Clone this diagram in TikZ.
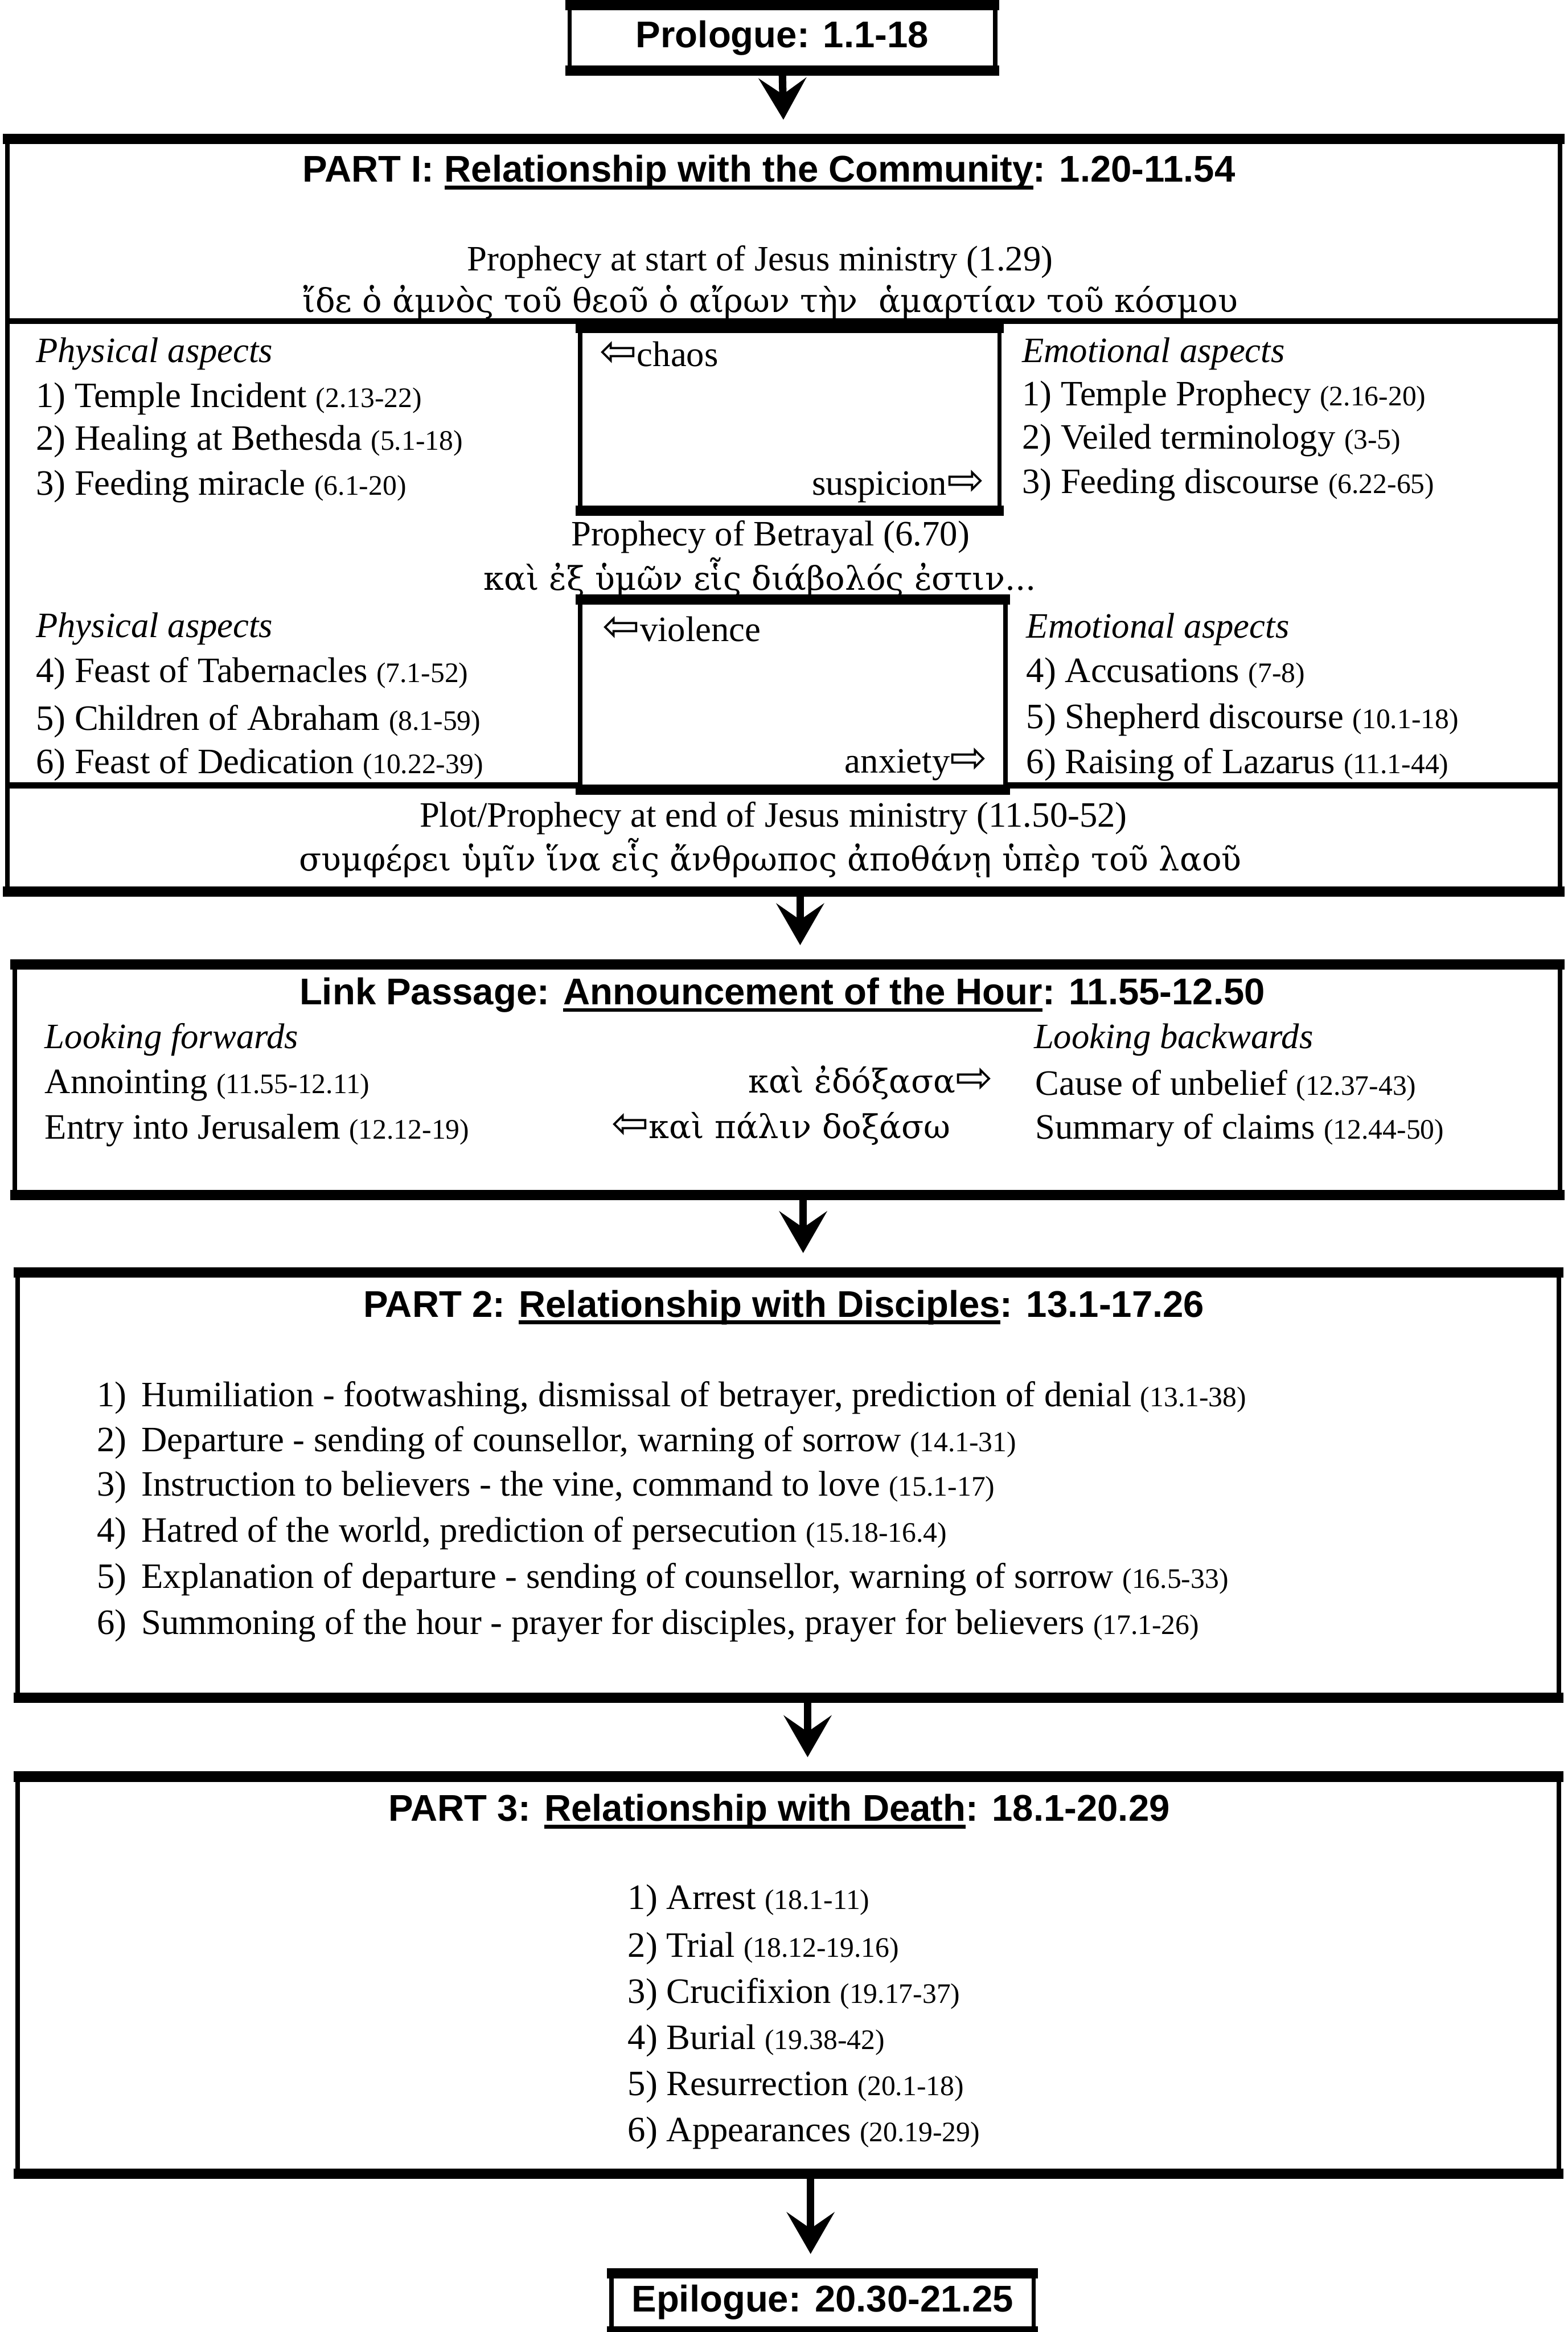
\documentclass[tikz,border=0pt]{standalone}
\usepackage{fontspec}
\usepackage{tikz}
\usetikzlibrary{arrows.meta}
\setmainfont{Liberation Serif}
\setsansfont{Liberation Sans}
\newfontfamily\greekfont{DejaVu Serif}
\newfontfamily\arrowfont{DejaVu Sans}
\newcommand{\passref}[1]{{\fontsize{19}{22}\selectfont #1}}
\newcommand{\leftwhite}{{\arrowfont\fontsize{30}{30}\selectfont ⇦}}
\newcommand{\rightwhite}{{\arrowfont\fontsize{30}{30}\selectfont ⇨}}
\newcommand{\titleul}[1]{\setbox0=\hbox{#1}\rlap{\rule[-5pt]{\wd0}{2.6pt}}\box0}

\begin{document}
\begin{tikzpicture}[x=1pt,y=-1pt,
  boxedge/.style={line width=7pt,shorten <=-1.5pt,shorten >=-1.5pt},
  bigbox/.style={draw,line width=3pt,fill=white,inner sep=0pt,
    append after command={(\tikzlastnode.north west) edge[boxedge] (\tikzlastnode.north east)
      (\tikzlastnode.south west) edge[boxedge] (\tikzlastnode.south east)}},
  headtext/.style={font=\sffamily\bfseries\fontsize{25}{29}\selectfont,inner sep=0pt},
  body/.style={font=\fontsize{24}{29}\selectfont,inner sep=0pt},
  lbody/.style={body,anchor=west},
  rbody/.style={body,anchor=east},
  greek/.style={font=\greekfont\fontsize{22}{26}\selectfont,inner sep=0pt},
  divider/.style={line width=4pt},
  flow/.style={line width=5pt,-{Stealth[length=28pt,width=32pt,inset=11pt]},shorten >=13pt}]
  \useasboundingbox[fill=white] (0,0) rectangle (1054,1568);

  \node [bigbox,headtext,minimum width=286pt,minimum height=41pt] (prologue) at (526,25.5) {Prologue: 1.1-18};

  \node [bigbox,minimum width=1044pt,minimum height=503pt] (part1) at (527,346.5) {};
  \node [headtext] (part1title) at (517,116) {PART I: \titleul{Relationship with the Community}: 1.20-11.54};
  \node [body] (startprophecy) at (511,176) {Prophecy at start of Jesus ministry (1.29)};
  \node [greek] (startgreek) at (518,203) {ἴδε ὁ ἀμνὸς τοῦ θεοῦ ὁ αἴρων τὴν\ \ ἁμαρτίαν τοῦ κόσμου};
  \coordinate (topdiv) at (0,216);
  \coordinate (lowdiv) at (0,528);
  \draw [divider] (part1.west |- topdiv) -- (part1.east |- topdiv);
  \draw [divider] (part1.west |- lowdiv) -- (part1.east |- lowdiv);

  \node [bigbox,minimum width=282pt,minimum height=120pt] (chaosbox) at (531,282) {};
  \node [lbody] (chaos) at (403,238) {\leftwhite chaos};
  \node [rbody] (suspicion) at (662,327) {suspicion\rightwhite};
  \node [lbody] (physical1) at (24,238) {\textit{Physical aspects}};
  \node [lbody] (temple) at (24,268) {1) Temple Incident \passref{(2.13-22)}};
  \node [lbody] (bethesda) at (24,297) {2) Healing at Bethesda \passref{(5.1-18)}};
  \node [lbody] (miracle) at (24,327) {3) Feeding miracle \passref{(6.1-20)}};
  \node [lbody] (emotional1) at (687,238) {\textit{Emotional aspects}};
  \node [lbody] (templeprophecy) at (687,267) {1) Temple Prophecy \passref{(2.16-20)}};
  \node [lbody] (veiled) at (687,296) {2) Veiled terminology \passref{(3-5)}};
  \node [lbody] (discourse) at (687,326) {3) Feeding discourse \passref{(6.22-65)}};

  \node [body] (betrayal) at (518,361) {Prophecy of Betrayal (6.70)};
  \node [greek] (betrayalgreek) at (511,388) {καὶ ἐξ ὑμῶν εἷς διάβολός ἐστιν...};

  \node [bigbox,minimum width=286pt,minimum height=125pt] (violencebox) at (533,467) {};
  \node [lbody] (violence) at (405,423) {\leftwhite violence};
  \node [rbody] (anxiety) at (664,514) {anxiety\rightwhite};
  \node [lbody] (physical2) at (24,423) {\textit{Physical aspects}};
  \node [lbody] (tabernacles) at (24,453) {4) Feast of Tabernacles \passref{(7.1-52)}};
  \node [lbody] (abraham) at (24,485) {5) Children of Abraham \passref{(8.1-59)}};
  \node [lbody] (dedication) at (24,514) {6) Feast of Dedication \passref{(10.22-39)}};
  \node [lbody] (emotional2) at (690,423) {\textit{Emotional aspects}};
  \node [lbody] (accusations) at (690,453) {4) Accusations \passref{(7-8)}};
  \node [lbody] (shepherd) at (690,484) {5) Shepherd discourse \passref{(10.1-18)}};
  \node [lbody] (lazarus) at (690,514) {6) Raising of Lazarus \passref{(11.1-44)}};

  \node [body] (endprophecy) at (520,550) {Plot/Prophecy at end of Jesus ministry (11.50-52)};
  \node [greek] (endgreek) at (518,577) {συμφέρει ὑμῖν ἵνα εἷς ἄνθρωπος ἀποθάνῃ ὑπὲρ τοῦ λαοῦ};

  \node [bigbox,minimum width=1039pt,minimum height=152pt] (link) at (529.5,726) {};
  \node [headtext] (linktitle) at (526,669) {Link Passage: \titleul{Announcement of the Hour}: 11.55-12.50};
  \node [lbody] (forwards) at (30,699) {\textit{Looking forwards}};
  \node [lbody] (annointing) at (30,730) {Annointing \passref{(11.55-12.11)}};
  \node [lbody] (entry) at (30,760) {Entry into Jerusalem \passref{(12.12-19)}};
  \node [rbody] (glorified) at (668,728) {{\greekfont\fontsize{22}{26}\selectfont καὶ ἐδόξασα}\rightwhite};
  \node [lbody] (glorifyagain) at (411,759) {\leftwhite{\greekfont\fontsize{22}{26}\selectfont καὶ πάλιν δοξάσω}};
  \node [lbody] (backwards) at (695,699) {\textit{Looking backwards}};
  \node [lbody] (unbelief) at (696,730) {Cause of unbelief \passref{(12.37-43)}};
  \node [lbody] (claims) at (696,760) {Summary of claims \passref{(12.44-50)}};

  \node [bigbox,minimum width=1036pt,minimum height=283pt] (part2) at (530,998.5) {};
  \node [headtext] (part2title) at (527,879) {PART 2: \titleul{Relationship with Disciples}: 13.1-17.26};
  \node [lbody] (humiliation) at (65,940) {1)\hspace{10pt}Humiliation - footwashing, dismissal of betrayer, prediction of denial \passref{(13.1-38)}};
  \node [lbody] (departure) at (65,970) {2)\hspace{10pt}Departure - sending of counsellor, warning of sorrow \passref{(14.1-31)}};
  \node [lbody] (instruction) at (65,1000) {3)\hspace{10pt}Instruction to believers - the vine, command to love \passref{(15.1-17)}};
  \node [lbody] (hatred) at (65,1031) {4)\hspace{10pt}Hatred of the world, prediction of persecution \passref{(15.18-16.4)}};
  \node [lbody] (explanation) at (65,1062) {5)\hspace{10pt}Explanation of departure - sending of counsellor, warning of sorrow \passref{(16.5-33)}};
  \node [lbody] (summoning) at (65,1093) {6)\hspace{10pt}Summoning of the hour - prayer for disciples, prayer for believers \passref{(17.1-26)}};

  \node [bigbox,minimum width=1036pt,minimum height=264pt] (part3) at (530,1328) {};
  \node [headtext] (part3title) at (524,1218) {PART 3: \titleul{Relationship with Death}: 18.1-20.29};
  \node [lbody] (arrest) at (422,1278) {1) Arrest \passref{(18.1-11)}};
  \node [lbody] (trial) at (422,1310) {2) Trial \passref{(18.12-19.16)}};
  \node [lbody] (crucifixion) at (422,1341) {3) Crucifixion \passref{(19.17-37)}};
  \node [lbody] (burial) at (422,1372) {4) Burial \passref{(19.38-42)}};
  \node [lbody] (resurrection) at (422,1403) {5) Resurrection \passref{(20.1-18)}};
  \node [lbody] (appearances) at (422,1434) {6) Appearances \passref{(20.19-29)}};

  \node [bigbox,headtext,minimum width=284pt,minimum height=36pt] (epilogue) at (553,1548) {Epilogue: 20.30-21.25};

  \draw [flow] (prologue.south) -- (part1.north);
  \draw [flow] ([xshift=11pt]part1.south) -- ([xshift=8.5pt]link.north);
  \draw [flow] ([xshift=10.5pt]link.south) -- ([xshift=10pt]part2.north);
  \draw [flow] ([xshift=13pt]part2.south) -- ([xshift=13pt]part3.north);
  \draw [flow] ([xshift=15pt]part3.south) -- ([xshift=-8pt]epilogue.north);
\end{tikzpicture}
\end{document}
